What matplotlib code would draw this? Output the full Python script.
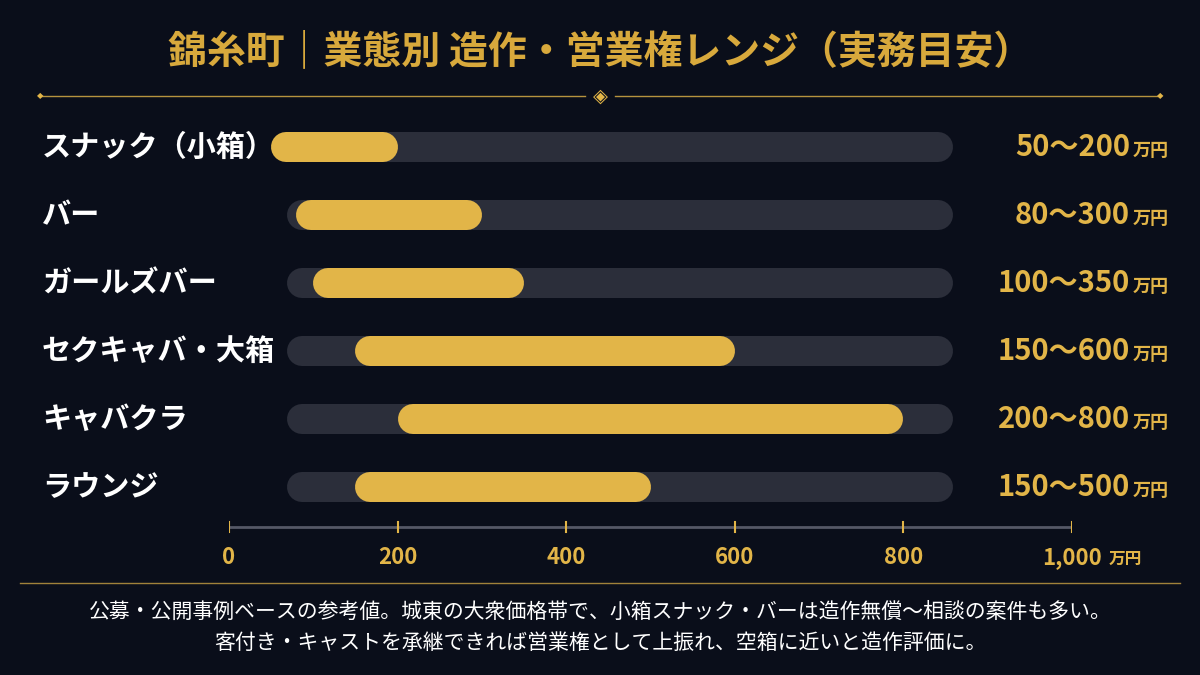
import matplotlib
matplotlib.use("Agg")
import matplotlib.pyplot as plt
from matplotlib.lines import Line2D

plt.rcParams['font.family'] = ['Noto Sans CJK JP', 'DejaVu Sans']

categories = ["スナック（小箱）", "バー", "ガールズバー", "セクキャバ・大箱", "キャバクラ", "ラウンジ"]
low = [50, 80, 100, 150, 200, 150]
high = [200, 300, 350, 600, 800, 500]
ticks = [0, 200, 400, 600, 800, 1000]
tick_labels = ["0", "200", "400", "600", "800", "1,000"]

BG = "#0a0e1a"
GOLD = "#e2b548"
TGOLD = "#d8a93c"
TRACK = "#2b2e3a"
W, H = 1200, 675

fig = plt.figure(figsize=(12, 6.75), dpi=100, facecolor=BG)

def fx(px): return px / W
def fy(py): return 1 - py / H

fig.text(0.5, fy(52), "錦糸町｜業態別 造作・営業権レンジ（実務目安）", color=TGOLD,
         fontsize=28, fontweight='bold', ha='center', va='center')
fig.add_artist(Line2D([fx(40), fx(585)], [fy(96)] * 2, color=GOLD, lw=1, alpha=0.8))
fig.add_artist(Line2D([fx(615), fx(1160)], [fy(96)] * 2, color=GOLD, lw=1, alpha=0.8))
fig.text(0.5, fy(96), "◈", color=GOLD, fontsize=14, ha='center', va='center', family=['DejaVu Sans'])
fig.text(fx(40), fy(96), "◆", color=GOLD, fontsize=6, ha='center', va='center', family=['DejaVu Sans'])
fig.text(fx(1160), fy(96), "◆", color=GOLD, fontsize=6, ha='center', va='center', family=['DejaVu Sans'])

x0, x1 = 229, 1072
ax = fig.add_axes([fx(x0), fy(540), (x1 - x0) / W, (540 - 115) / H])
ax.set_facecolor('none')
ax.set_xlim(0, 1000)
ypos0, ystep = 147, 68
ax.set_ylim((540 - ypos0) / ystep, (115 - ypos0) / ystep)
for s in ax.spines.values():
    s.set_visible(False)
ax.set_xticks([]); ax.set_yticks([])

lw_px = 30
lw_pt = lw_px * 72 / 100
cap = (lw_px / 2) / ((x1 - x0) / 1000)
track_lo, track_hi = 69, 859

for i, (c, lo, hi) in enumerate(zip(categories, low, high)):
    ax.plot([track_lo + cap, track_hi - cap], [i, i], color=TRACK, lw=lw_pt, solid_capstyle='round')
    ax.plot([lo + cap, hi - cap], [i, i], color=GOLD, lw=lw_pt, solid_capstyle='round')
    ypx = ypos0 + ystep * i
    fig.text(fx(42), fy(ypx), c, color='white', fontsize=21, fontweight='bold', ha='left', va='center')
    fig.text(fx(1133), fy(ypx + 4), "万円", color=GOLD, fontsize=13, fontweight='bold', ha='left', va='center')
    fig.text(fx(1130), fy(ypx), f"{lo}～{hi}", color=GOLD, fontsize=21, fontweight='bold', ha='right', va='center')

axb = fig.add_axes([fx(x0), fy(560), (x1 - x0) / W, 40 / H])
axb.set_facecolor('none')
axb.set_xlim(0, 1000); axb.set_ylim(0, 1)
axb.axis('off')
axb.plot([0, 1000], [0.825, 0.825], color='#555866', lw=2)
for t, lab in zip(ticks, tick_labels):
    axb.plot([t, t], [0.7, 0.95], color=GOLD, lw=1.5)
    axb.text(t, 0.05, lab, color=GOLD, fontsize=16, fontweight='bold', ha='center', va='center')
fig.text(fx(1125), fy(559), "万円", color=GOLD, fontsize=12, fontweight='bold', ha='center', va='center')

fig.add_artist(Line2D([fx(20), fx(1180)], [fy(583)] * 2, color=GOLD, lw=1, alpha=0.7))
fig.text(0.5, fy(612), "公募・公開事例ベースの参考値。城東の大衆価格帯で、小箱スナック・バーは造作無償～相談の案件も多い。",
         color='white', fontsize=15, ha='center', va='center')
fig.text(0.5, fy(643), "客付き・キャストを承継できれば営業権として上振れ、空箱に近いと造作評価に。",
         color='white', fontsize=15, ha='center', va='center')

fig.savefig("out.png", dpi=100, facecolor=BG)
